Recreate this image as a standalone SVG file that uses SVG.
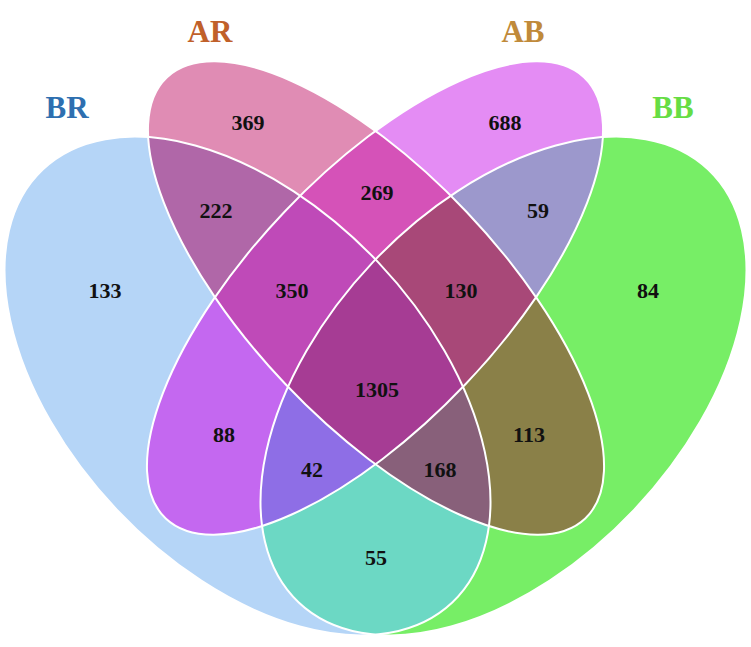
<svg xmlns="http://www.w3.org/2000/svg" xmlns:xlink="http://www.w3.org/1999/xlink" width="751" height="647" viewBox="0 0 751 647">
<style>
.n{font-family:"Liberation Serif",serif;font-size:22px;font-weight:bold;text-anchor:middle;fill:#111}
.t{font-family:"Liberation Serif",serif;font-size:31px;font-weight:bold;text-anchor:middle}
.o{fill:none;stroke:#fff;stroke-width:2}
</style>
<defs>
<ellipse id="BR" cx="247.5" cy="386" rx="298" ry="180" transform="rotate(46.6 247.5 386)"/>
<ellipse id="BB" cx="503.5" cy="386" rx="298" ry="180" transform="rotate(-46.6 503.5 386)"/>
<ellipse id="AR" cx="376" cy="298" rx="304" ry="125" transform="rotate(46.5 376 298)"/>
<ellipse id="AB" cx="375" cy="298" rx="304" ry="125" transform="rotate(-46.5 375 298)"/>
<clipPath id="cBR"><use xlink:href="#BR"/></clipPath>
<clipPath id="cBB"><use xlink:href="#BB"/></clipPath>
<clipPath id="cAR"><use xlink:href="#AR"/></clipPath>
<clipPath id="cAB"><use xlink:href="#AB"/></clipPath>
</defs>
<rect width="751" height="647" fill="#fff"/>
<g id="regions">
<use xlink:href="#BR" fill="#b5d5f7"/>
<use xlink:href="#AR" fill="#e08cb4"/>
<use xlink:href="#AB" fill="#e48cf4"/>
<use xlink:href="#BB" fill="#77ee66"/>
<g clip-path="url(#cBR)"><use xlink:href="#AR" fill="#b067a8"/><use xlink:href="#AB" fill="#c468f0"/><use xlink:href="#BB" fill="#6cd8c4"/></g>
<g clip-path="url(#cAR)"><use xlink:href="#AB" fill="#d552b8"/><use xlink:href="#BB" fill="#8a8048"/></g>
<g clip-path="url(#cAB)"><use xlink:href="#BB" fill="#9c98cc"/></g>
<g clip-path="url(#cBR)"><g clip-path="url(#cAR)"><use xlink:href="#AB" fill="#bf4ab8"/><use xlink:href="#BB" fill="#88607a"/></g><g clip-path="url(#cAB)"><use xlink:href="#BB" fill="#8e6ee6"/></g></g>
<g clip-path="url(#cAR)"><g clip-path="url(#cAB)"><use xlink:href="#BB" fill="#a84878"/></g></g>
<g clip-path="url(#cBR)"><g clip-path="url(#cAR)"><g clip-path="url(#cAB)"><use xlink:href="#BB" fill="#a63c94"/></g></g></g>
</g>
<g id="outlines">
<use xlink:href="#BR" class="o"/><use xlink:href="#BB" class="o"/><use xlink:href="#AR" class="o"/><use xlink:href="#AB" class="o"/>
</g>
<g id="labels">
<text class="t" x="67" y="118" fill="#2e6fb0">BR</text>
<text class="t" x="210" y="42" fill="#c0602a">AR</text>
<text class="t" x="523" y="42" fill="#c08a3a">AB</text>
<text class="t" x="673" y="118" fill="#66dd44">BB</text>
</g>
<g id="numbers">
<text class="n" x="248" y="130">369</text>
<text class="n" x="505" y="130">688</text>
<text class="n" x="377" y="200">269</text>
<text class="n" x="216" y="218">222</text>
<text class="n" x="538" y="218">59</text>
<text class="n" x="105" y="298">133</text>
<text class="n" x="292" y="298">350</text>
<text class="n" x="461" y="298">130</text>
<text class="n" x="648" y="298">84</text>
<text class="n" x="377" y="397">1305</text>
<text class="n" x="224" y="442">88</text>
<text class="n" x="529" y="442">113</text>
<text class="n" x="312" y="477">42</text>
<text class="n" x="440" y="477">168</text>
<text class="n" x="376" y="565">55</text>
</g>
</svg>
